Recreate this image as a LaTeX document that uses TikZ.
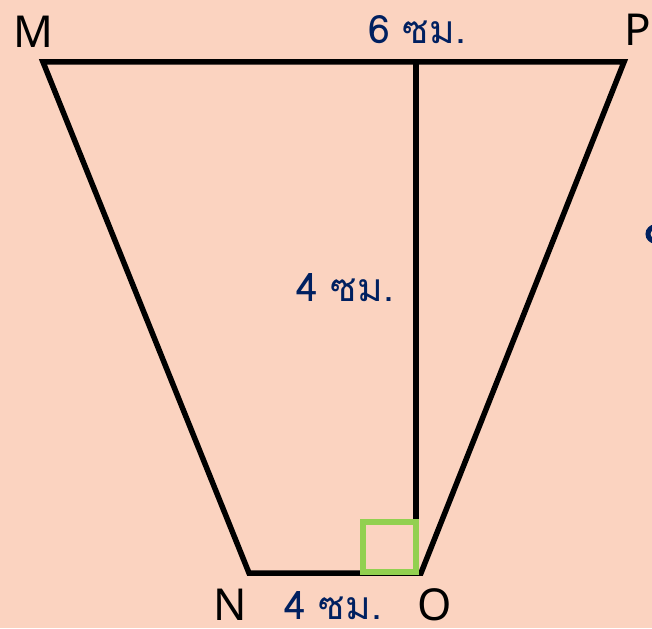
\documentclass[tikz,border=0pt]{standalone}
\usepackage{fontspec}
\setmainfont{Noto Sans}
\newfontfamily\thaifont[Script=Thai]{Loma}
\definecolor{bgpeach}{RGB}{251,211,192}
\definecolor{navy}{RGB}{0,32,96}
\definecolor{rgreen}{RGB}{146,208,80}
\begin{document}
\begin{tikzpicture}[x=1pt,y=-1pt,
  edge/.style={line width=5.5pt,black,line join=miter},
  vlabel/.style={font=\fontsize{44}{44}\selectfont,text=black,inner sep=0pt},
  mlabel/.style={font=\thaifont\fontsize{39}{39}\selectfont,text=navy,inner sep=0pt}]
\fill[bgpeach] (0,0) rectangle (652,628);
\useasboundingbox (0,0) rectangle (652,628);
\coordinate (M) at (43,62);
\coordinate (P) at (624,62);
\coordinate (O) at (421,573);
\coordinate (N) at (249,573);
\coordinate (T) at (416,62);
\coordinate (F) at (416,573);
\draw[edge] (M) -- (P) -- (O) -- (N) -- cycle;
\draw[edge] (T) -- (F);
\draw[line width=5.5pt,rgreen] (363,522) rectangle (416,572);
\node[vlabel] (lM) at (33,32) {M};
\node[vlabel] (lP) at (638,30) {P};
\node[vlabel] (lN) at (230,605) {N};
\node[vlabel] (lO) at (435,605) {O};
\node[mlabel] (t6) at (417,30) {6 ซม.};
\node[mlabel] (t4a) at (345,288) {4 ซม.};
\node[mlabel] (t4b) at (333,606) {4 ซม.};
\begin{scope}
\clip (0,0) rectangle (652,628);
\draw[navy,line width=5pt] (655,234) circle (7);
\end{scope}
\end{tikzpicture}
\end{document}
